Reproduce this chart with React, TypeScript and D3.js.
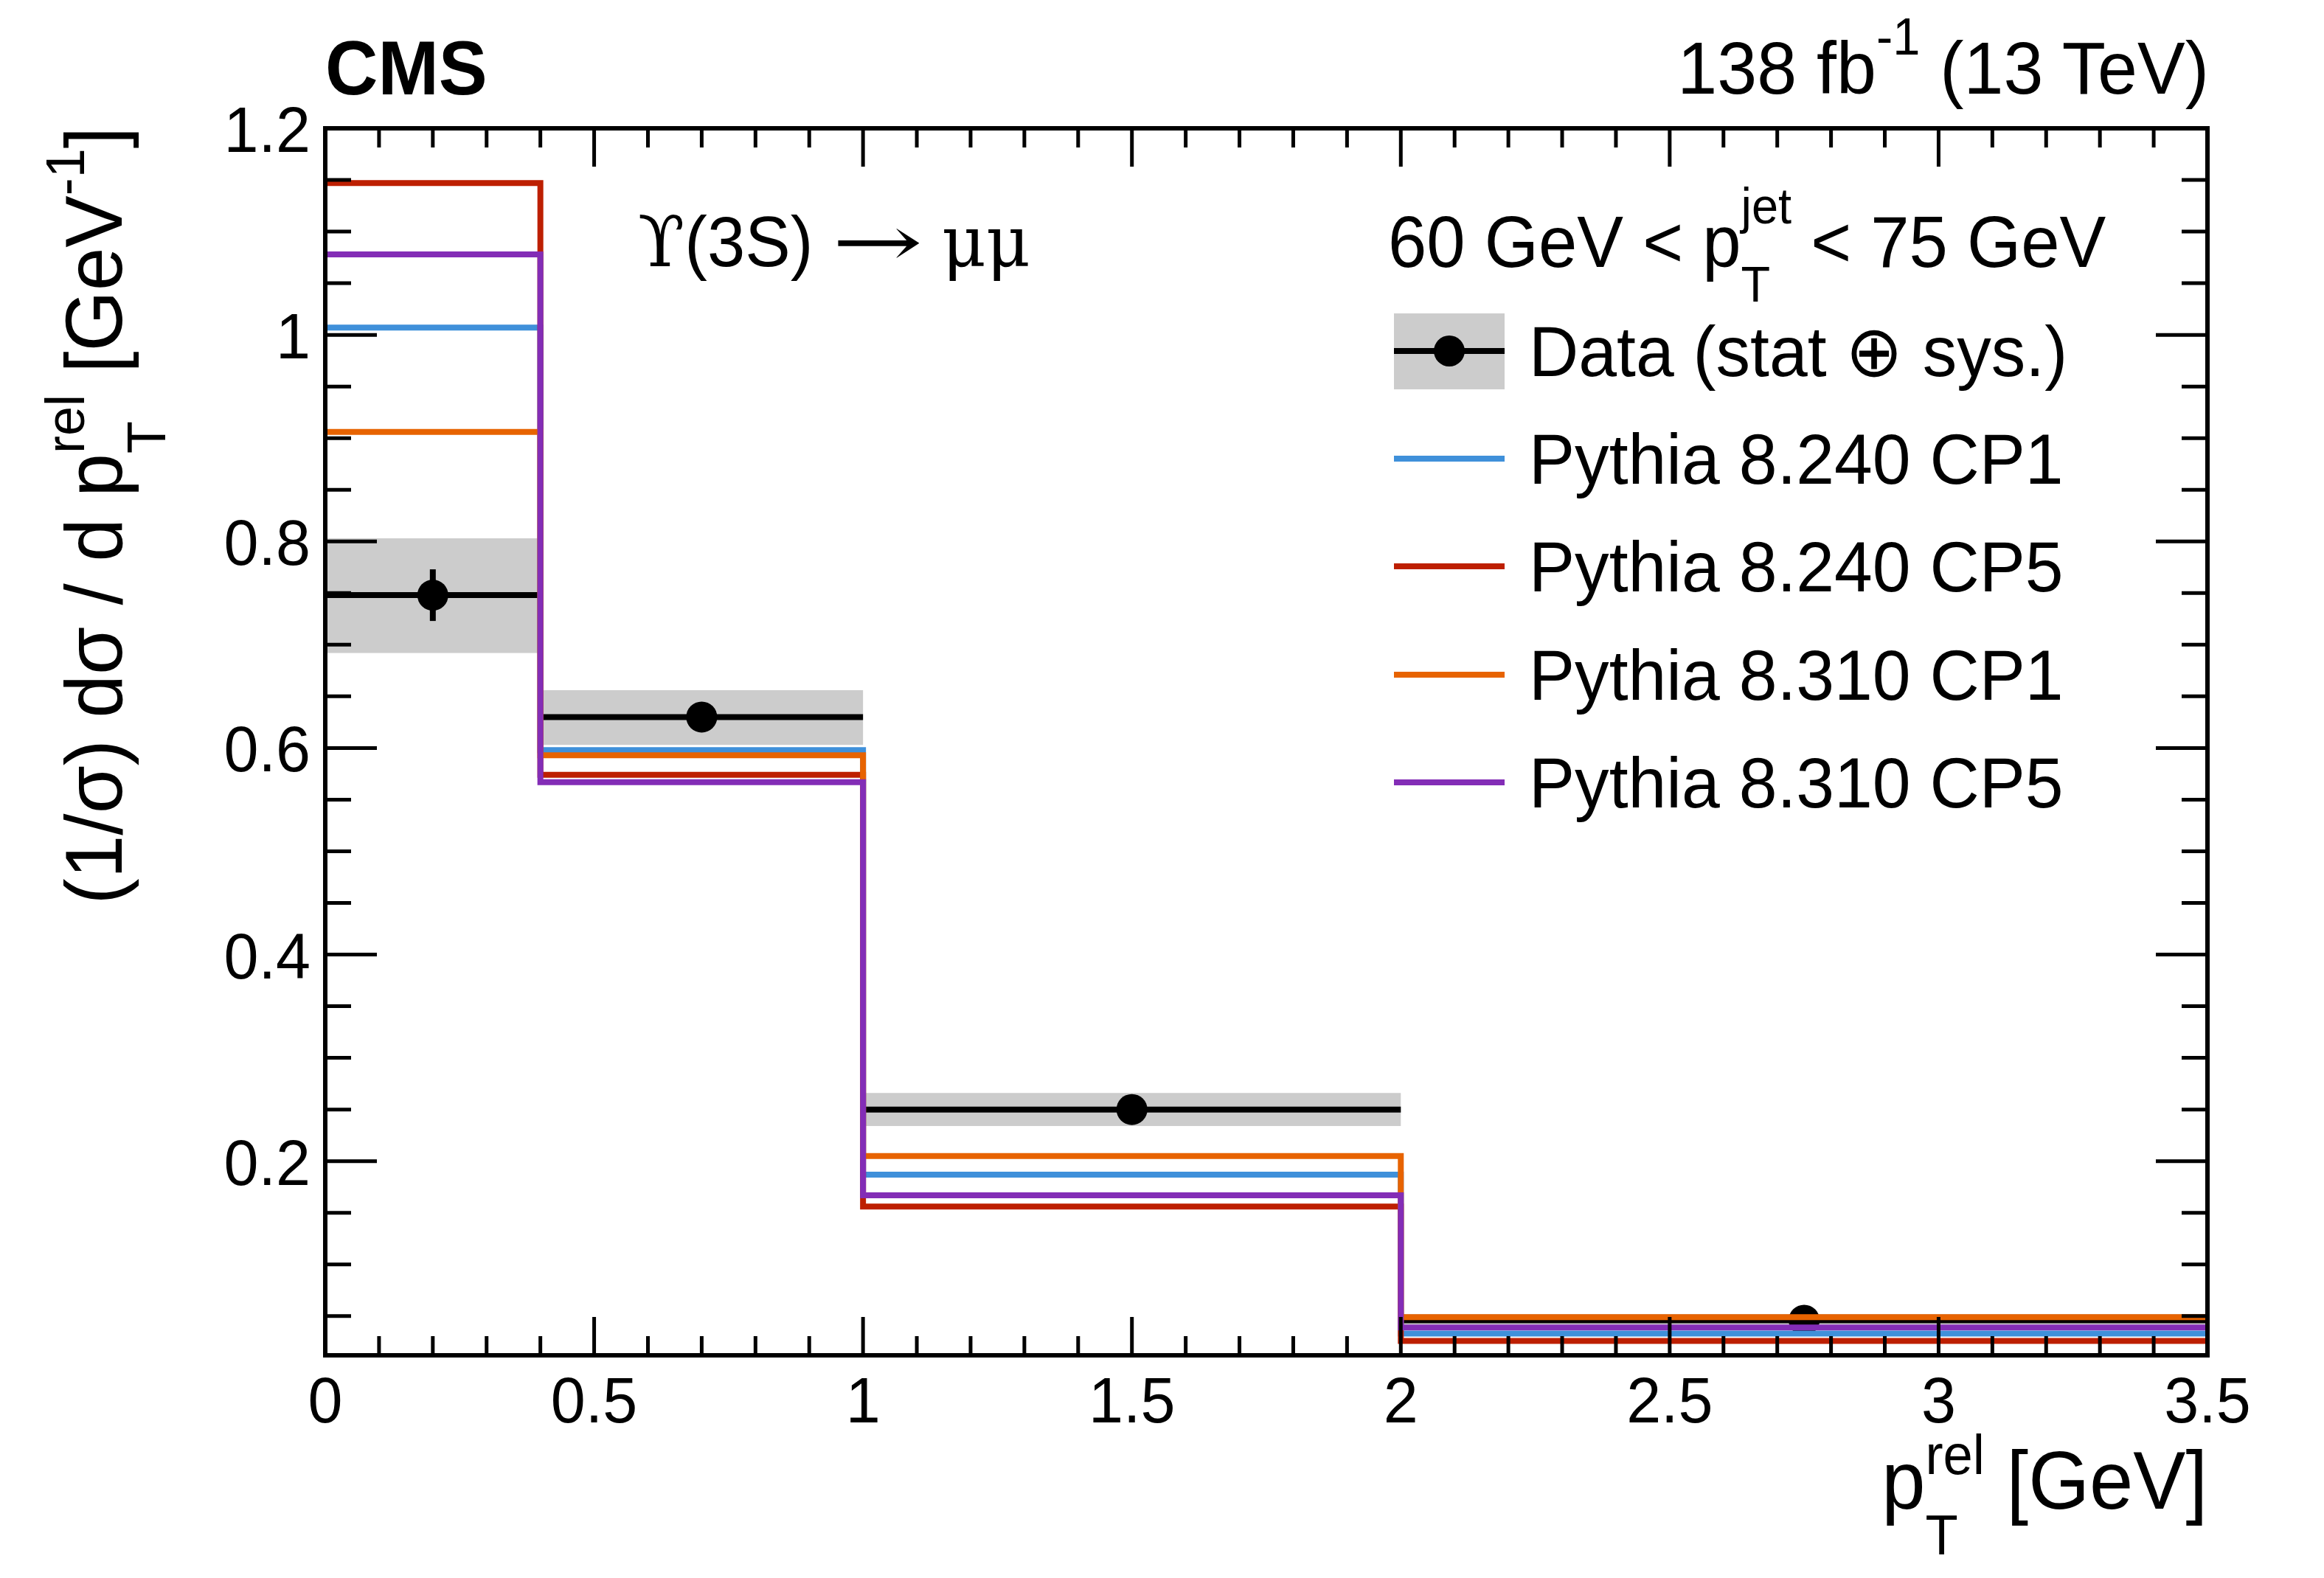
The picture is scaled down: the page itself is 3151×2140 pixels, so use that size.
import { useEffect, useRef } from 'react';
import * as d3 from 'd3';

// bins in p_T^rel [GeV]
const binEdges = [0, 0.4, 1.0, 2.0, 3.5];

// unfolded data, stat error, and total (stat+sys) band edges
const dataValues = [0.748, 0.63, 0.25, 0.046];
const dataStat = [0.025, 0.008, 0.006, 0.003];
const bandLow = [0.692, 0.603, 0.234, 0.042];
const bandHigh = [0.803, 0.656, 0.266, 0.052];

// MC predictions
const pythia240CP1 = [1.007, 0.598, 0.187, 0.033];
const pythia240CP5 = [1.147, 0.574, 0.156, 0.026];
const pythia310CP1 = [0.906, 0.593, 0.205, 0.049];
const pythia310CP5 = [1.078, 0.567, 0.167, 0.039];

const mcNames = ['Pythia 8.240 CP1', 'Pythia 8.240 CP5', 'Pythia 8.310 CP1', 'Pythia 8.310 CP5'];
const mcColors = ['#3f90da', '#bd1f01', '#e76300', '#832db6'];

const xMajor = [0, 0.5, 1, 1.5, 2, 2.5, 3, 3.5];
const xLabels = ['0', '0.5', '1', '1.5', '2', '2.5', '3', '3.5'];
const yMajor = [0.2, 0.4, 0.6, 0.8, 1.0, 1.2];
const yLabels = ['0.2', '0.4', '0.6', '0.8', '1', '1.2'];

const W = 3151;
const H = 2140;
const SANS = '"Liberation Sans", Arial, Helvetica, sans-serif';
const SERIF = '"DejaVu Serif", "Liberation Serif", serif';
const SX = 0.96; // ROOT's Helvetica runs a touch narrower than Arial

type Seg = { t: string; k?: number; up?: number; font?: string; stretch?: number };
type Part = Seg | { sup: Seg; sub: Seg };

function drawRich(
  parent: d3.Selection<SVGGElement, unknown, null, undefined>,
  o: { x: number; y: number; size: number; parts: Part[]; anchor?: string; rotate?: number; weight?: string },
) {
  const outer = parent
    .append('g')
    .attr('transform', `translate(${o.x},${o.y}) rotate(${o.rotate ?? 0}) scale(${SX},1)`);
  const inner = outer.append('g');
  let cx = 0;
  const put = (s: Seg, at: number) => {
    const st = s.stretch ?? 1;
    const t = inner
      .append('g')
      .attr('transform', `translate(${at},0) scale(${st},1)`)
      .append('text')
      .attr('y', -(s.up ?? 0) * o.size)
      .attr('font-size', o.size * (s.k ?? 1))
      .attr('font-family', s.font ?? SANS)
      .attr('font-weight', o.weight ?? 'normal')
      .attr('xml:space', 'preserve')
      .style('white-space', 'pre')
      .attr('fill', '#000')
      .text(s.t);
    return (t.node() as SVGTextElement).getComputedTextLength() * st;
  };
  for (const p of o.parts) {
    if ('sup' in p) {
      const a = put(p.sup, cx);
      const b = put(p.sub, cx);
      cx += Math.max(a, b);
    } else {
      cx += put(p, cx);
    }
  }
  const shift = o.anchor === 'end' ? -cx : o.anchor === 'middle' ? -cx / 2 : 0;
  inner.attr('transform', `translate(${shift},0)`);
}

export default function App() {
  const ref = useRef<SVGSVGElement | null>(null);

  useEffect(() => {
    document.body.style.margin = '0';
    const svgEl = ref.current;
    if (!svgEl) return;
    const svg = d3.select(svgEl);
    svg.selectAll('*').remove();
    const root = svg.append('g');

    const left = 441;
    const right = 2993;
    const top = 174;
    const bottom = 1838;
    const x = d3.scaleLinear().domain([0, 3.5]).range([left, right]);
    const y = d3.scaleLinear().domain([0.012, 1.2]).range([bottom, top]);

    root.append('rect').attr('width', W).attr('height', H).attr('fill', '#fff');

    const nBins = dataValues.length;
    const bins = d3.range(nBins);

    // total uncertainty band
    root
      .append('g')
      .selectAll('rect')
      .data(bins)
      .join('rect')
      .attr('x', (i) => x(binEdges[i]))
      .attr('width', (i) => x(binEdges[i + 1]) - x(binEdges[i]))
      .attr('y', (i) => y(bandHigh[i]))
      .attr('height', (i) => y(bandLow[i]) - y(bandHigh[i]))
      .attr('fill', '#cccccc');

    // data: horizontal bin bars, stat error bars, markers
    const dg = root.append('g');
    dg.selectAll('line.h')
      .data(bins)
      .join('line')
      .attr('class', 'h')
      .attr('x1', (i) => x(binEdges[i]))
      .attr('x2', (i) => x(binEdges[i + 1]))
      .attr('y1', (i) => y(dataValues[i]))
      .attr('y2', (i) => y(dataValues[i]))
      .attr('stroke', '#000')
      .attr('stroke-width', 8);
    dg.selectAll('line.v')
      .data(bins)
      .join('line')
      .attr('class', 'v')
      .attr('x1', (i) => x((binEdges[i] + binEdges[i + 1]) / 2))
      .attr('x2', (i) => x((binEdges[i] + binEdges[i + 1]) / 2))
      .attr('y1', (i) => y(dataValues[i] + dataStat[i]))
      .attr('y2', (i) => y(dataValues[i] - dataStat[i]))
      .attr('stroke', '#000')
      .attr('stroke-width', 8);
    dg.selectAll('circle')
      .data(bins)
      .join('circle')
      .attr('cx', (i) => x((binEdges[i] + binEdges[i + 1]) / 2))
      .attr('cy', (i) => y(dataValues[i]))
      .attr('r', 21)
      .attr('fill', '#000');

    // MC step histograms
    const mcSeries = [pythia240CP1, pythia240CP5, pythia310CP1, pythia310CP5];
    const step = d3
      .line<[number, number]>()
      .x((d) => x(d[0]))
      .y((d) => y(d[1]))
      .curve(d3.curveStepAfter);
    mcSeries.forEach((vals, k) => {
      const pts: [number, number][] = binEdges.map((e, i) => [e, vals[Math.min(i, vals.length - 1)]]);
      root
        .append('path')
        .attr('d', step(pts) ?? '')
        .attr('fill', 'none')
        .attr('stroke', mcColors[k])
        .attr('stroke-width', 8)
        .attr('stroke-linejoin', 'miter');
    });

    // frame and ticks
    const ax = root.append('g').attr('stroke', '#000');
    const xMinor = d3.range(0, 3.5001, 0.1);
    const yMinor = d3.range(0.05, 1.2001, 0.05);
    const isMajor = (v: number, list: number[]) => list.some((m) => Math.abs(m - v) < 1e-6);
    xMinor.forEach((v) => {
      const len = isMajor(v, xMajor) ? 52 : 26;
      ax.append('line').attr('x1', x(v)).attr('x2', x(v)).attr('y1', bottom).attr('y2', bottom - len).attr('stroke-width', 5);
      ax.append('line').attr('x1', x(v)).attr('x2', x(v)).attr('y1', top).attr('y2', top + len).attr('stroke-width', 5);
    });
    yMinor.forEach((v) => {
      const len = isMajor(v, yMajor) ? 70 : 35;
      ax.append('line').attr('y1', y(v)).attr('y2', y(v)).attr('x1', left).attr('x2', left + len).attr('stroke-width', 5);
      ax.append('line').attr('y1', y(v)).attr('y2', y(v)).attr('x1', right).attr('x2', right - len).attr('stroke-width', 5);
    });
    ax.append('rect')
      .attr('x', left)
      .attr('y', top)
      .attr('width', right - left)
      .attr('height', bottom - top)
      .attr('fill', 'none')
      .attr('stroke-width', 6);

    // tick labels
    const tl = root.append('g');
    xMajor.forEach((v, i) =>
      drawRich(tl, { x: x(v), y: 1929, size: 88, anchor: 'middle', parts: [{ t: xLabels[i] }] }),
    );
    yMajor.forEach((v, i) =>
      drawRich(tl, { x: 421, y: y(v) + 32, size: 88, anchor: 'end', parts: [{ t: yLabels[i] }] }),
    );

    // axis titles
    drawRich(tl, {
      x: right,
      y: 2046,
      size: 111,
      anchor: 'end',
      parts: [{ t: 'p' }, { sup: { t: 'rel', k: 0.68, up: 0.42 }, sub: { t: 'T', k: 0.68, up: -0.56 } }, { t: ' [GeV]' }],
    });
    drawRich(tl, {
      x: 165,
      y: 172,
      size: 110,
      rotate: -90,
      anchor: 'end',
      parts: [
        { t: '(1/σ) dσ / d p' },
        { sup: { t: 'rel', k: 0.68, up: 0.46 }, sub: { t: 'T', k: 0.68, up: -0.54 } },
        { t: ' [GeV' },
        { t: '-1', k: 0.68, up: 0.46 },
        { t: ']' },
      ],
    });

    // header
    drawRich(tl, { x: left, y: 128, size: 103, weight: 'bold', parts: [{ t: 'CMS' }] });
    drawRich(tl, {
      x: 2995,
      y: 127,
      size: 101,
      anchor: 'end',
      parts: [{ t: '138 fb' }, { t: '-1', k: 0.69, up: 0.52 }, { t: ' (13 TeV)' }],
    });
    drawRich(tl, {
      x: 865,
      y: 361,
      size: 96,
      parts: [
        { t: 'ϒ', font: SERIF },
        { t: '(3S) ' },
        { t: '→', font: SERIF, stretch: 1.6 },
        { t: ' ' },
        { t: 'μμ', font: SERIF },
      ],
    });
    drawRich(tl, {
      x: 1882,
      y: 362,
      size: 98,
      parts: [
        { t: '60 GeV < p' },
        { sup: { t: 'jet', k: 0.69, up: 0.6 }, sub: { t: 'T', k: 0.69, up: -0.48 } },
        { t: ' < 75 GeV' },
      ],
    });

    // legend
    const lg = root.append('g');
    const sx0 = 1890;
    const sx1 = 2040;
    const rowY = [476, 622, 768, 915, 1061];
    lg.append('rect').attr('x', sx0).attr('y', 425).attr('width', sx1 - sx0).attr('height', 103).attr('fill', '#cccccc');
    lg.append('line').attr('x1', sx0).attr('x2', sx1).attr('y1', rowY[0]).attr('y2', rowY[0]).attr('stroke', '#000').attr('stroke-width', 8);
    lg.append('circle').attr('cx', (sx0 + sx1) / 2).attr('cy', rowY[0]).attr('r', 21).attr('fill', '#000');
    drawRich(lg, { x: 2073, y: rowY[0] + 34, size: 97, parts: [{ t: 'Data (stat ⊕ sys.)' }] });
    mcNames.forEach((name, k) => {
      const yy = rowY[k + 1];
      lg.append('line').attr('x1', sx0).attr('x2', sx1).attr('y1', yy).attr('y2', yy).attr('stroke', mcColors[k]).attr('stroke-width', 8);
      drawRich(lg, { x: 2073, y: yy + 34, size: 97, parts: [{ t: name }] });
    });
  }, []);

  return <svg ref={ref} width={W} height={H} style={{ display: 'block' }} />;
}
